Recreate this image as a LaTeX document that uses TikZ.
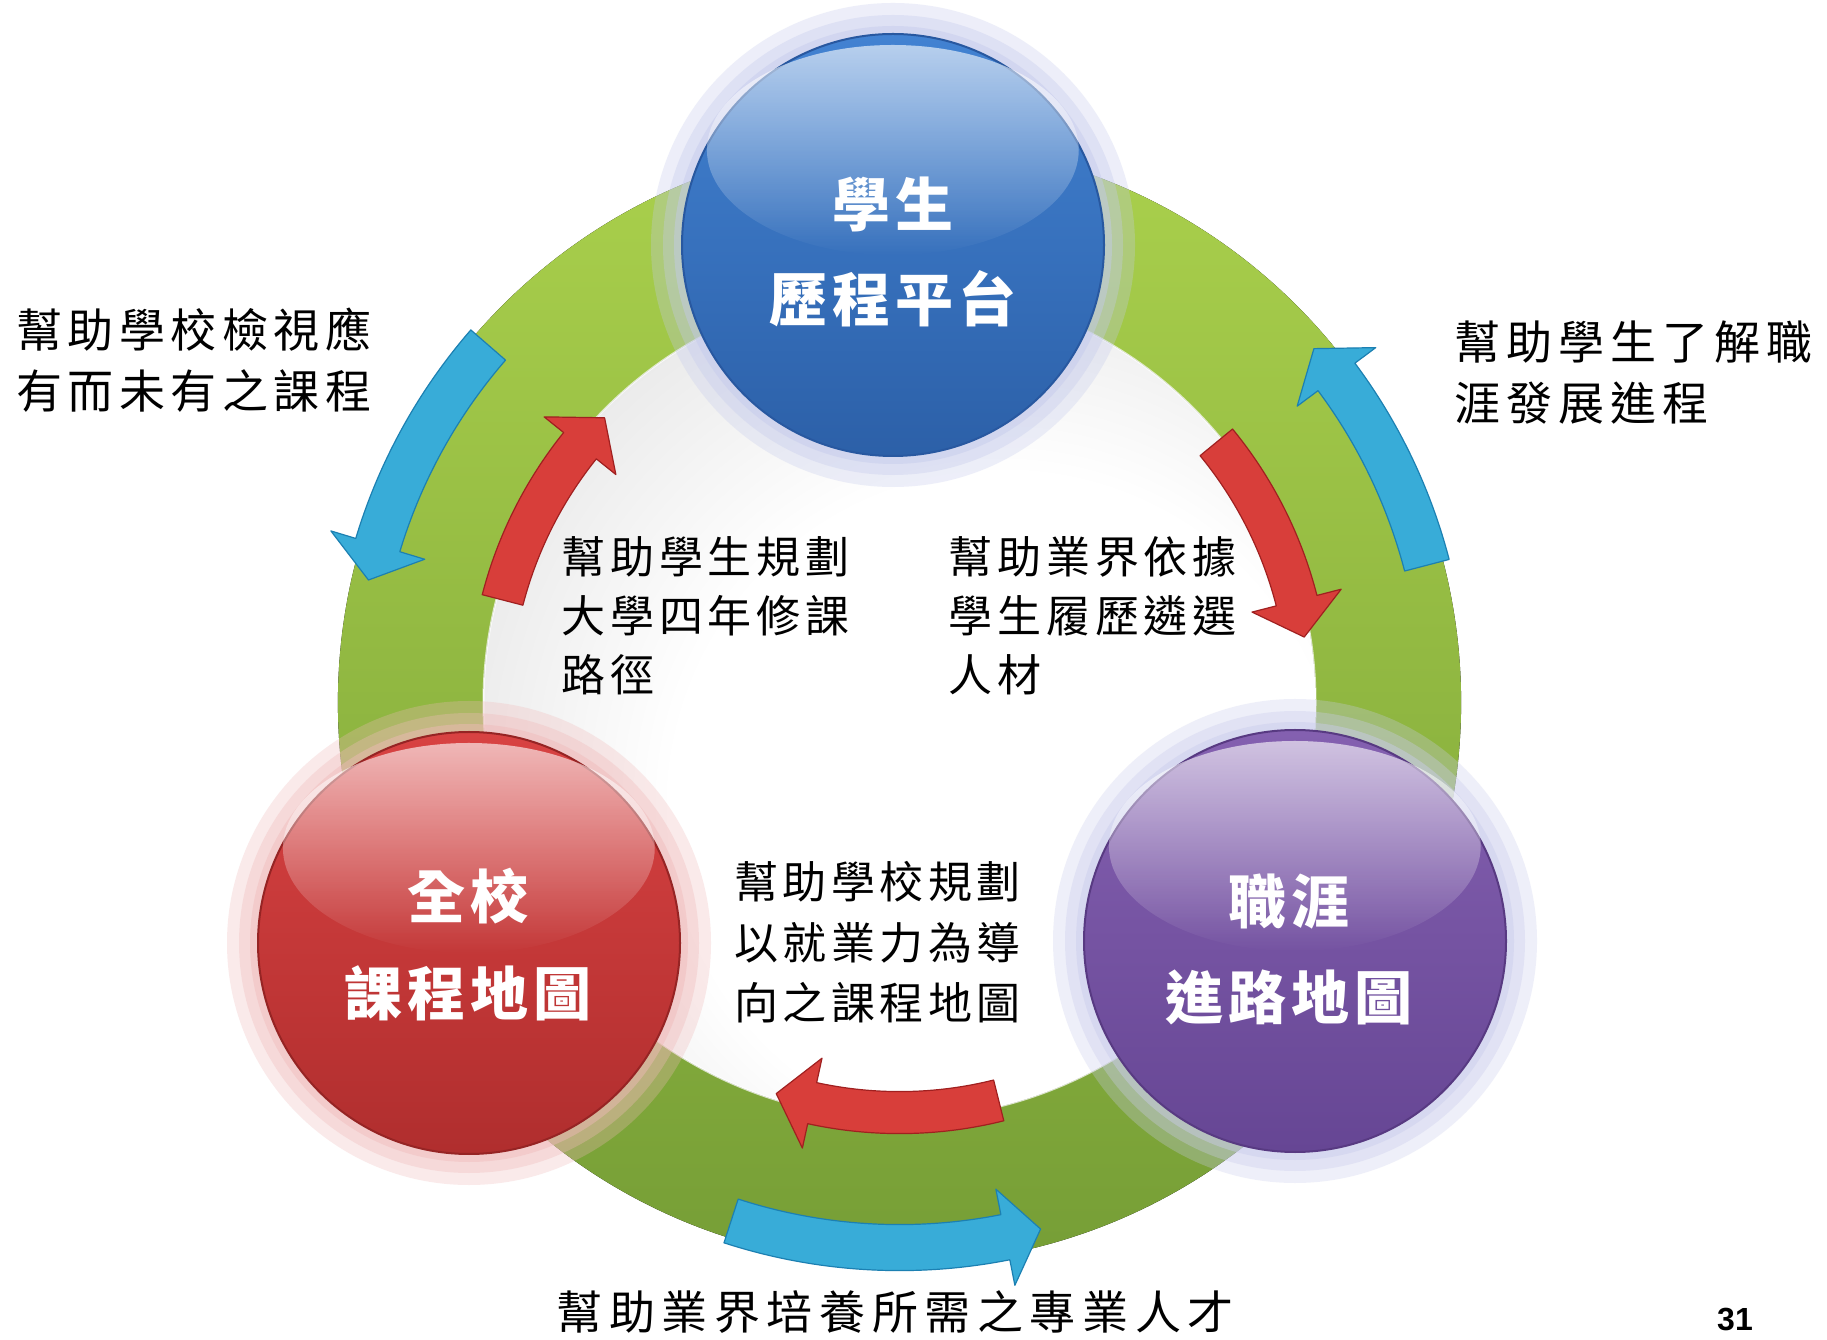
\documentclass[tikz,border=0pt]{standalone}
\usepackage{fontspec}
\setmainfont{Liberation Sans}
\newfontfamily\cjk{Noto Sans CJK TC}
\usetikzlibrary{fadings}

\definecolor{ringtop}{RGB}{170,208,76}
\definecolor{ringbot}{RGB}{118,158,54}
\definecolor{arrblue}{RGB}{56,172,216}
\definecolor{arrblueD}{RGB}{28,128,178}
\definecolor{arrred}{RGB}{216,62,58}
\definecolor{arrredD}{RGB}{160,32,32}
\definecolor{blueT}{RGB}{66,130,210}
\definecolor{blueB}{RGB}{44,96,168}
\definecolor{blueR}{RGB}{40,88,160}
\definecolor{redT}{RGB}{216,66,66}
\definecolor{redB}{RGB}{176,46,46}
\definecolor{redR}{RGB}{150,36,36}
\definecolor{purT}{RGB}{132,96,176}
\definecolor{purB}{RGB}{102,70,148}
\definecolor{purR}{RGB}{88,58,130}
\definecolor{haloB}{RGB}{196,202,236}
\definecolor{haloR}{RGB}{240,186,186}
\definecolor{haloP}{RGB}{202,204,236}

\pgfdeclareradialshading{discshade}{\pgfpoint{10bp}{-10bp}}{color(0bp)=(white); color(20bp)=(white); color(54bp)=(black!24)}

\newlength\cjkpitch
\def\cjkloop#1{\ifx\relax#1\else\makebox[\cjkpitch]{#1}\expandafter\cjkloop\fi}
\newcommand\cjkspaced[2]{\setlength\cjkpitch{#1}\cjkloop#2\relax}

% curved arrow along the ring: R, start angle, tip angle, body width, head width, head length (deg), style
\newcommand\ringarrow[7]{%
  \pgfmathsetmacro\raS{(#3>#2)?1:-1}%
  \pgfmathsetmacro\raN{#3-\raS*#6}%
  \pgfmathsetmacro\raO{#1+#4/2}%
  \pgfmathsetmacro\raI{#1-#4/2}%
  \pgfmathsetmacro\raHO{#1+#5/2}%
  \pgfmathsetmacro\raHI{#1-#5/2}%
  \path[shift={(ringc)},#7] (#2:\raO pt) arc[start angle=#2,end angle=\raN,radius=\raO pt]
    -- (\raN:\raHO pt) -- (#3:#1pt) -- (\raN:\raHI pt) -- (\raN:\raI pt)
    arc[start angle=\raN,end angle=#2,radius=\raI pt] -- cycle;}

\tikzset{
  ball/.style={circle, minimum size=422pt, inner sep=0pt, line width=2pt},
  blabel/.style={inner sep=0pt, anchor=base, text=white, font={\cjk\bfseries\fontsize{58pt}{60pt}\selectfont}},
  outtxt/.style={inner sep=0pt, anchor=base west, font={\cjk\fontsize{46pt}{50pt}\selectfont}},
  intxt/.style={inner sep=0pt, anchor=base west, font={\cjk\fontsize{44pt}{48pt}\selectfont}},
  bluearrow/.style={fill=arrblue, draw=arrblueD, line width=1.2pt, line join=round},
  redarrow/.style={fill=arrred, draw=arrredD, line width=1.2pt, line join=round},
}

\begin{document}
\begin{tikzpicture}[x=1pt,y=1pt]
\useasboundingbox (0,0) rectangle (1827,1339);
\fill[white] (0,0) rectangle (1827,1339);

\coordinate (ringc) at (899.5,636.4);
\coordinate (cb) at (893,1094);
\coordinate (cr) at (469,396);
\coordinate (cp) at (1295,398);

% ring and inner disc
\fill[top color=ringtop, bottom color=ringbot] (ringc) circle[radius=561.6pt];
\fill[shading=discshade] (ringc) circle[radius=416pt];
\draw[white, line width=2pt, opacity=.7] (ringc) circle[radius=416pt];

% halos
\foreach \c/\h in {cb/haloB, cr/haloR, cp/haloP}{
  \fill[\h, opacity=.30] (\c) circle[radius=242pt];
  \fill[\h, opacity=.35] (\c) circle[radius=230pt];
  \fill[\h, opacity=.45] (\c) circle[radius=219pt];
}

% balls
\node[ball, top color=blueT, bottom color=blueB, draw=blueR] (blue) at (cb) {};
\node[ball, top color=redT, bottom color=redB, draw=redR] (red) at (cr) {};
\node[ball, top color=purT, bottom color=purB, draw=purR] (purple) at (cp) {};
\foreach \c in {cb,cr,cp}{
  \fill[white, opacity=.62, path fading=south] ([yshift=95pt]\c) ellipse[x radius=186pt, y radius=105pt];
}

% ball labels
\node[blabel] (b1) at (893,1112) {\cjkspaced{63pt}{學生}};
\node[blabel] (b2) at (893,1017) {\cjkspaced{63pt}{歷程平台}};
\node[blabel] (r1) at (468,420) {\cjkspaced{63pt}{全校}};
\node[blabel] (r2) at (468,324) {\cjkspaced{63pt}{課程地圖}};
\node[blabel] (p1) at (1289,415) {\cjkspaced{63pt}{職涯}};
\node[blabel] (p2) at (1289,320) {\cjkspaced{63pt}{進路地圖}};

% arrows
\ringarrow{545}{139}{167}{46}{98}{3.8}{bluearrow}
\ringarrow{545}{14.6}{40.5}{46}{98}{3.8}{bluearrow}
\ringarrow{545}{252}{285}{46}{98}{3.8}{bluearrow}
\ringarrow{410}{165.5}{136}{42}{92}{5.2}{redarrow}
\ringarrow{410}{39.4}{9.2}{42}{92}{5.2}{redarrow}
\ringarrow{410}{284}{252.5}{42}{92}{5.2}{redarrow}

% outer texts
\node[outtxt] (tl1) at (13.5,991.5) {\cjkspaced{51.5pt}{幫助學校檢視應}};
\node[outtxt] (tl2) at (13.5,930.5) {\cjkspaced{51.5pt}{有而未有之課程}};
\node[outtxt] (tr1) at (1451,979.5) {\cjkspaced{52pt}{幫助學生了解職}};
\node[outtxt] (tr2) at (1451,918.5) {\cjkspaced{52pt}{涯發展進程}};
\node[outtxt] (bt) at (553,10) {\cjkspaced{52.6pt}{幫助業界培養所需之專業人才}};

% inner texts
\node[intxt] (il1) at (559,765.3) {\cjkspaced{48.8pt}{幫助學生規劃}};
\node[intxt] (il2) at (559,706.3) {\cjkspaced{48.8pt}{大學四年修課}};
\node[intxt] (il3) at (559,647.3) {\cjkspaced{48.8pt}{路徑}};
\node[intxt] (ir1) at (946,765.3) {\cjkspaced{48.8pt}{幫助業界依據}};
\node[intxt] (ir2) at (946,706.3) {\cjkspaced{48.8pt}{學生履歷遴選}};
\node[intxt] (ir3) at (946,647.3) {\cjkspaced{48.8pt}{人材}};
\node[intxt] (bc1) at (732,440.3) {\cjkspaced{48.5pt}{幫助學校規劃}};
\node[intxt] (bc2) at (732,379.3) {\cjkspaced{48.5pt}{以就業力為導}};
\node[intxt] (bc3) at (732,319.3) {\cjkspaced{48.5pt}{向之課程地圖}};

% page number
\node[inner sep=0pt, anchor=base, font={\bfseries\fontsize{32pt}{36pt}\selectfont}] (pg) at (1735,9) {31};
\end{tikzpicture}
\end{document}
